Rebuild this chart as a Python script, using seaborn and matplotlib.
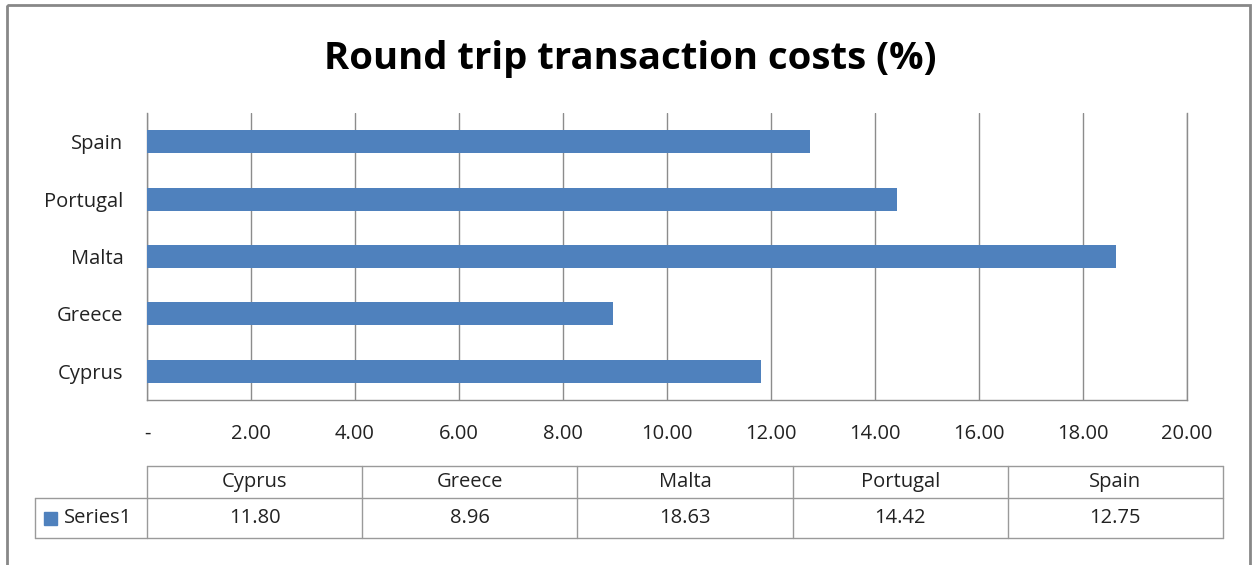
import numpy as np
import pandas as pd
import matplotlib
matplotlib.use("Agg")
import matplotlib.pyplot as plt
import seaborn as sns
from matplotlib.patches import Rectangle

# data
countries = ["Cyprus", "Greece", "Malta", "Portugal", "Spain"]
costs = [11.80, 8.96, 18.63, 14.42, 12.75]
series_name = "Series1"
x_ticks = [0, 2, 4, 6, 8, 10, 12, 14, 16, 18, 20]

W, H = 1259, 565
bar_color = "#4F81BD"
grid_color = "#8C8C8C"
txt = "#222222"

sns.set_theme(style="white")
plt.rcParams["font.family"] = ["Open Sans", "DejaVu Sans"]

fig = plt.figure(figsize=(W / 100, H / 100), dpi=100)

# plot area in pixel coords: x 147..1187, y 113..400
ax = fig.add_axes([147 / W, 1 - 400 / H, (1187 - 147) / W, (400 - 113) / H])

df = pd.DataFrame({"country": countries, "cost": costs})
order = countries[::-1]
sns.barplot(data=df, x="cost", y="country", order=order, color=bar_color,
            width=0.4, saturation=1, linewidth=0, ax=ax, zorder=3)

ax.set_xlim(0, 20)
ax.set_ylim(len(order) - 0.5, -0.5)
ax.set_xticks(x_ticks)
ax.set_xticklabels(["-" if t == 0 else f"{t:.2f}" for t in x_ticks], fontsize=14.5, color=txt)
ax.tick_params(axis="y", labelsize=14.5, labelcolor=txt, length=0, pad=17)
ax.tick_params(axis="x", length=0, pad=17)
ax.set_xlabel("")
ax.set_ylabel("")
ax.grid(axis="x", color=grid_color, linewidth=1, zorder=0)
ax.spines["top"].set_visible(False)
for side in ["left", "bottom", "right"]:
    ax.spines[side].set_color(grid_color)
    ax.spines[side].set_linewidth(1)

# overlay axes in pixel coordinates for title, frame and data table
ov = fig.add_axes([0, 0, 1, 1], zorder=5)
ov.set_xlim(0, W)
ov.set_ylim(H, 0)
ov.axis("off")
ov.patch.set_alpha(0)

ov.add_patch(Rectangle((7, 5), 1243, 580, fill=False, edgecolor="#888888", linewidth=2))
ov.text(630, 59, "Round trip transaction costs (%)", ha="center", va="center",
        fontsize=27.5, fontweight="bold", color="black")

# data table below the chart
col_left, col_w = 147, (1223 - 147) / len(countries)
y0, y1, y2 = 466, 498, 538
lc = "#9A9A9A"
right = col_left + col_w * len(countries)
ov.plot([col_left, right], [y0, y0], color=lc, lw=1)
ov.plot([35, right], [y1, y1], color=lc, lw=1)
ov.plot([35, right], [y2, y2], color=lc, lw=1)
ov.plot([35, 35], [y1, y2], color=lc, lw=1)
for i in range(len(countries) + 1):
    ov.plot([col_left + i * col_w] * 2, [y0, y2], color=lc, lw=1)
for i, (c, v) in enumerate(zip(countries, costs)):
    cx = col_left + (i + 0.5) * col_w
    ov.text(cx, (y0 + y1) / 2, c, ha="center", va="center", fontsize=14.5, color=txt)
    ov.text(cx, (y1 + y2) / 2, f"{v:.2f}", ha="center", va="center", fontsize=14.5, color=txt)
ov.add_patch(Rectangle((44, 512), 13, 13, color=bar_color))
ov.text(64, (y1 + y2) / 2, series_name, ha="left", va="center", fontsize=14.5, color=txt)

fig.savefig("out.png", dpi=100)
